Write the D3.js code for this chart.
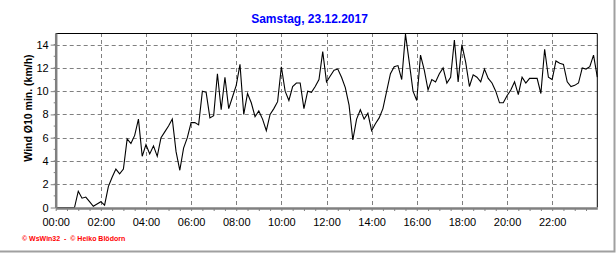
<!DOCTYPE html>
<html>
<head>
<meta charset="utf-8">
<script src="https://cdn.jsdelivr.net/npm/d3@7"></script>
<style>
  body { margin: 0; background: #fff; }
  svg { display: block; font-family: "Liberation Sans", Arial, sans-serif; }
</style>
</head>
<body>
<svg id="chart" width="616" height="253"></svg>
<script>
// wind speed, 10-minute average (km/h), one value every 10 minutes
var wind0006 = [0, 0, 0, 0, 0, 0, 1.4, 0.8, 0.9, 0.5, 0.1, 0.3,
                0.5, 0.2, 1.8, 2.6, 3.3, 2.9, 3.3, 5.9, 5.5, 6.2, 7.6, 4.4,
                5.4, 4.6, 5.3, 4.4, 6.0, 6.5, 7.0, 7.6, 4.8, 3.2, 5.1, 6.0];
var wind0612 = [7.3, 7.3, 7.1, 10.0, 9.9, 7.7, 7.9, 11.5, 8.4, 11.2, 8.5, 9.5,
                10.5, 12.3, 8.0, 9.8, 9.0, 7.8, 8.3, 7.6, 6.6, 8.0, 8.5, 9.1,
                12.1, 10.0, 9.2, 10.4, 10.7, 10.7, 8.5, 10.0, 9.9, 10.4, 11.0, 13.4];
var wind1218 = [10.8, 11.3, 11.8, 11.9, 11.2, 10.3, 8.8, 5.8, 7.6, 8.4, 7.6, 8.1,
                6.6, 7.2, 7.7, 8.5, 10.0, 11.5, 12.1, 12.2, 11.0, 14.9, 12.5, 10.0,
                9.2, 13.1, 11.8, 10.1, 11.0, 10.8, 11.5, 12.0, 10.7, 11.2, 14.4, 10.8];
var wind1824 = [14.0, 12.5, 10.4, 11.4, 11.2, 10.8, 11.9, 11.1, 10.7, 10.0, 9.0, 9.0,
                9.6, 10.1, 10.8, 9.7, 11.2, 10.7, 11.1, 11.1, 11.1, 9.8, 13.6, 11.2,
                11.0, 12.6, 12.4, 12.3, 10.8, 10.4, 10.5, 10.7, 12.0, 11.9, 12.1, 13.1, 11.2];

var xTickLabels = ['00:00', '02:00', '04:00', '06:00', '08:00', '10:00',
                   '12:00', '14:00', '16:00', '18:00', '20:00', '22:00'];
var yTicks = [0, 2, 4, 6, 8, 10, 12, 14];

var title = 'Samstag, 23.12.2017';
var yTitle = 'Wind \u00D810 min. (km/h)';
var credits = '\u00A9 WsWin32  -  \u00A9 Heiko Bl\u00F6dorn';

var chartSVG = d3.select('#chart');
var plotLeft = 55.7, plotRight = 597.3, plotTop = 33, plotBottom = 207.5;
var gridColor = '#808080';

var wind = wind0006.concat(wind0612, wind1218, wind1824);
// minutes since midnight for each reading
var points = wind.map((v, i) => ({ min: i * 10, value: v }));

var xScale = d3.scaleLinear()
               .domain([0, 24 * 60])
               .range([plotLeft, plotRight]);
var yScale = d3.scaleLinear()
               .domain([0, 15])
               .range([plotBottom, plotTop]);

var hourTicks = xTickLabels.map(l => +l.split(':')[0] * 60);

// grid
chartSVG
  .append('g')
    .selectAll('line')
    .data(yTicks.filter(d => d > 0))
    .enter()
    .append('line')
      .attr('x1', plotLeft)
      .attr('x2', plotRight)
      .attr('y1', d => Math.round(yScale(d)) + 0.5)
      .attr('y2', d => Math.round(yScale(d)) + 0.5)
      .attr('stroke', gridColor)
      .attr('stroke-dasharray', '4,3');
chartSVG
  .append('g')
    .selectAll('line')
    .data(hourTicks.filter(d => d > 0))
    .enter()
    .append('line')
      .attr('x1', d => Math.round(xScale(d)) + 0.5)
      .attr('x2', d => Math.round(xScale(d)) + 0.5)
      .attr('y1', plotTop)
      .attr('y2', plotBottom)
      .attr('stroke', gridColor)
      .attr('stroke-dasharray', '4,3');

// top and right border
chartSVG
  .append('path')
    .attr('d', `M${plotLeft},${plotTop + 0.5}H${plotRight}V${plotBottom}`)
    .attr('fill', 'none')
    .attr('stroke', '#000');

// data line
var line = d3.line()
             .x(d => xScale(d.min))
             .y(d => yScale(d.value));
chartSVG
  .append('path')
    .datum(points)
    .attr('d', line)
    .attr('fill', 'none')
    .attr('stroke', '#000')
    .attr('stroke-width', 1.1);

// y axis
var yAxis = d3.axisLeft(yScale)
              .tickValues(yTicks)
              .tickSize(5)
              .tickPadding(2)
              .tickSizeOuter(0);
var yAxisG = chartSVG
  .append('g')
    .attr('transform', `translate(${plotLeft}, 0)`)
    .call(yAxis);
yAxisG.select('.domain')
  .attr('stroke', gridColor)
  .attr('stroke-width', 2.5);
yAxisG.selectAll('.tick line').attr('stroke', gridColor);
yAxisG.selectAll('.tick text')
  .attr('font-size', 11)
  .attr('font-family', '"Liberation Sans", Arial, sans-serif')
  .attr('fill', '#000');
yAxisG.selectAll('.minor')
  .data(d3.range(1, 15, 1))
  .enter()
  .append('line')
    .attr('x1', -2)
    .attr('x2', 0)
    .attr('y1', d => yScale(d))
    .attr('y2', d => yScale(d))
    .attr('stroke', gridColor);

// x axis
var xAxis = d3.axisBottom(xScale)
              .tickValues(d3.range(0, 24 * 60, 30))
              .tickSize(3)
              .tickPadding(7)
              .tickSizeOuter(0)
              .tickFormat(d => {
                  var i = hourTicks.indexOf(d);
                  return i < 0 ? '' : xTickLabels[i];
              });
var xAxisG = chartSVG
  .append('g')
    .attr('transform', `translate(0, ${plotBottom + 0.5})`)
    .call(xAxis);
xAxisG.select('.domain')
  .attr('stroke', gridColor)
  .attr('stroke-width', 2.5);
xAxisG.selectAll('.tick line').attr('stroke', gridColor);
xAxisG.selectAll('.tick text')
  .attr('font-size', 11)
  .attr('font-family', '"Liberation Sans", Arial, sans-serif')
  .attr('fill', '#000');

// titles
chartSVG
  .append('text')
    .attr('x', 309.5)
    .attr('y', 23)
    .attr('text-anchor', 'middle')
    .attr('font-size', 12)
    .attr('font-weight', 'bold')
    .attr('fill', '#0000ff')
    .text(title);

chartSVG
  .append('text')
    .attr('transform', 'translate(32, 108) rotate(-90)')
    .attr('text-anchor', 'middle')
    .attr('font-size', 10.5)
    .attr('font-weight', 'bold')
    .attr('fill', '#000')
    .text(yTitle);

chartSVG
  .append('text')
    .attr('x', 22)
    .attr('y', 241)
    .attr('font-size', 7)
    .attr('font-weight', 'bold')
    .attr('fill', '#ff0000')
    .attr('xml:space', 'preserve')
    .text(credits);

// outer frame shadow
chartSVG
  .append('path')
    .attr('d', 'M614.5,0V251.5H0')
    .attr('fill', 'none')
    .attr('stroke', '#a0a0a0')
    .attr('stroke-width', 2);
</script>
</body>
</html>
